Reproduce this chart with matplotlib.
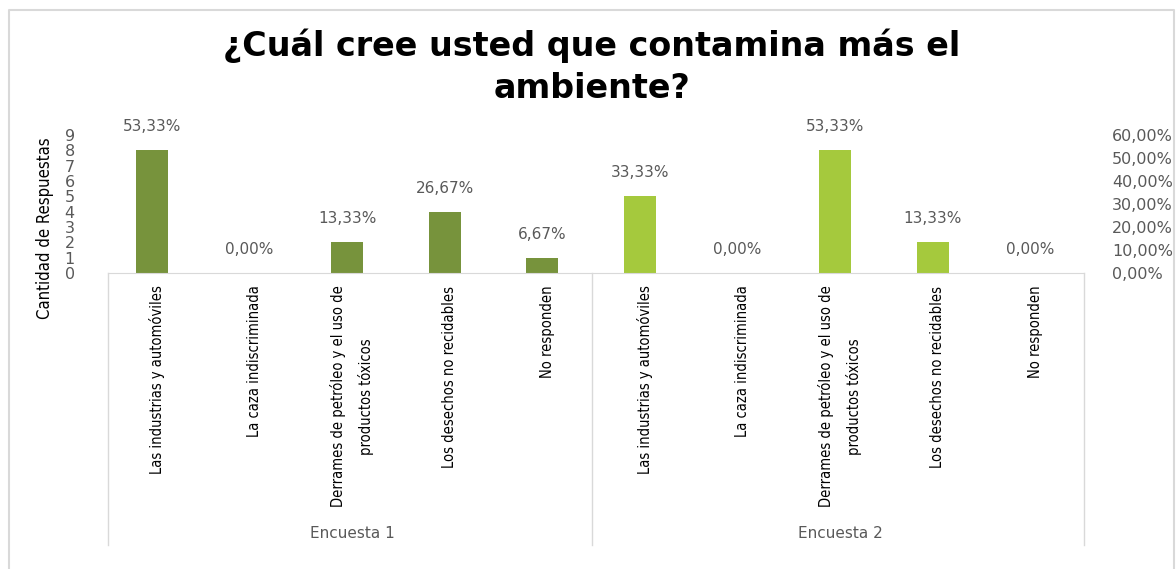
import matplotlib.pyplot as plt
import numpy as np
from matplotlib.lines import Line2D

# ============ DONNEES ============
categorias = ["Las industrias y automóviles",
              "La caza indiscriminada",
              "Derrames de petróleo y el uso de\nproductos tóxicos",
              "Los desechos no recidables",
              "No responden"]
encuestas = ["Encuesta 1", "Encuesta 2"]
respuestas_1 = [8, 0, 2, 4, 1]
respuestas_2 = [5, 0, 8, 2, 0]
porcentajes_1 = [53.33, 0.00, 13.33, 26.67, 6.67]
porcentajes_2 = [33.33, 0.00, 53.33, 13.33, 0.00]

color_1 = "#77933C"
color_2 = "#A5C93D"
gris = "#595959"
etroit = dict(family="DejaVu Sans", stretch="condensed")

# ============ DESSIN ============
fig = plt.figure(figsize=(11.76, 5.69), dpi=100)
ax = fig.add_axes([108 / 1176, 1 - 273 / 569, 976 / 1176, 138 / 569])

valeurs = respuestas_1 + respuestas_2
pourc = porcentajes_1 + porcentajes_2
couleurs = [color_1] * len(respuestas_1) + [color_2] * len(respuestas_2)
x = np.arange(len(valeurs))

ax.bar(x - 0.05, valeurs, width=0.33, color=couleurs, zorder=2)
ax.set_xlim(-0.5, len(valeurs) - 0.5)
ax.set_ylim(0, 9)
ax.set_yticks(range(0, 10))
ax.tick_params(axis="y", length=0, labelsize=11.5, labelcolor=gris, pad=24)

for xi, v, p in zip(x, valeurs, pourc):
    ax.text(xi - 0.05, v + 1.05, ("%.2f%%" % p).replace(".", ","),
            ha="center", va="bottom", fontsize=11, color=gris)

ax2 = ax.twinx()
ax2.set_ylim(0, 60)
ax2.set_yticks(range(0, 61, 10))
ax2.set_yticklabels([("%.2f%%" % t).replace(".", ",") for t in range(0, 61, 10)])
ax2.tick_params(axis="y", length=0, labelsize=11.5, labelcolor=gris, pad=20)

ax.set_xticks(x)
ax.set_xticklabels(categorias * 2, rotation=90, va="top", ha="center",
                   fontsize=10.5, linespacing=1.95, **etroit)
ax.tick_params(axis="x", length=0, pad=9)

for a in (ax, ax2):
    for s in a.spines.values():
        s.set_visible(False)
ax.spines["bottom"].set_visible(True)
ax.spines["bottom"].set_color("#D9D9D9")

# titre de l'axe y
fig.text(45 / 1176, 1 - 228 / 569, "Cantidad de Respuestas", rotation=90,
         ha="center", va="center", fontsize=12, **etroit)

# lignes de séparation des groupes
for xs in [108, 592, 1084]:
    fig.add_artist(Line2D([xs / 1176, xs / 1176], [1 - 273 / 569, 1 - 545 / 569],
                          color="#D9D9D9", lw=1))
for i, nom in enumerate(encuestas):
    fig.text((108 + 488 * (i + 0.5)) / 1176, 1 - 533 / 569, nom,
             ha="center", va="center", fontsize=11, color=gris)

# cadre
fig.add_artist(Line2D([9 / 1176, 9 / 1176, 1174 / 1176, 1174 / 1176],
                      [0, 1 - 10 / 569, 1 - 10 / 569, 0], color="#D9D9D9", lw=1.5))

fig.text(592 / 1176, 1 - 67 / 569, "¿Cuál cree usted que contamina más el\nambiente?",
         ha="center", va="center", fontsize=24, fontweight="bold", linespacing=1.35)

plt.savefig("out.png", dpi=100)
